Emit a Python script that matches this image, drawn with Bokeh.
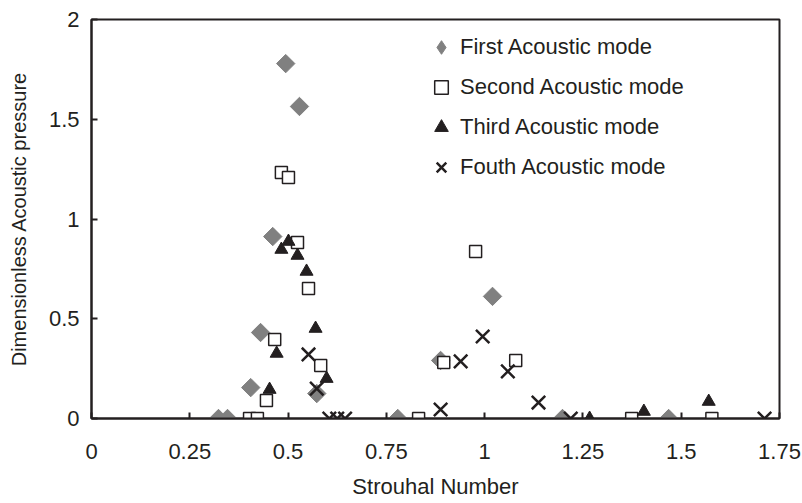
import numpy as np
from bokeh.plotting import figure
from bokeh.models import FixedTicker, NumeralTickFormatter, Range1d, Legend, LegendItem
from bokeh.embed import file_html
from bokeh.resources import INLINE

# ---- data ----
first_x = [0.323, 0.346, 0.405, 0.430, 0.461, 0.494, 0.529, 0.573, 0.779, 0.888, 1.020, 1.198, 1.468]
first_y = [0.0, 0.0, 0.155, 0.431, 0.912, 1.779, 1.564, 0.125, 0.0, 0.291, 0.612, 0.0, 0.0]

second_x = [0.402, 0.422, 0.445, 0.466, 0.483, 0.501, 0.524, 0.552, 0.583, 0.832, 0.896, 0.977, 1.079, 1.374, 1.578]
second_y = [0.0, 0.0, 0.090, 0.396, 1.233, 1.208, 0.882, 0.652, 0.266, 0.0, 0.281, 0.837, 0.291, 0.0, 0.0]

third_x = [0.453, 0.471, 0.483, 0.501, 0.524, 0.547, 0.570, 0.598, 1.267, 1.405, 1.570]
third_y = [0.145, 0.326, 0.847, 0.887, 0.817, 0.737, 0.451, 0.200, 0.0, 0.035, 0.085]

fourth_x = [0.552, 0.573, 0.605, 0.625, 0.645, 0.888, 0.939, 0.995, 1.059, 1.137, 1.219, 1.712]
fourth_y = [0.321, 0.150, 0.0, 0.0, 0.0, 0.045, 0.286, 0.411, 0.236, 0.080, 0.0, 0.0]

x_ticks = [0, 0.25, 0.5, 0.75, 1, 1.25, 1.5, 1.75]
y_ticks = [0, 0.5, 1, 1.5, 2]

series_labels = ["First Acoustic mode", "Second Acoustic mode", "Third Acoustic mode", "Fouth Acoustic mode"]

FONT = "Liberation Sans"
INK = "#231F20"
GREY = "#808080"

p = figure(width=802, height=503, output_backend="svg", toolbar_location=None,
           x_range=Range1d(0, 1.75), y_range=Range1d(0, 2),
           min_border_left=91, min_border_right=23, min_border_top=19, min_border_bottom=85)

p.background_fill_color = "white"
p.border_fill_color = "white"
p.outline_line_color = INK
p.outline_line_width = 2
p.grid.visible = False

r1 = p.scatter(first_x, first_y, marker="square", size=13, angle=np.pi / 4,
               fill_color=GREY, line_color=GREY)
r2 = p.scatter(second_x, second_y, marker="square", size=12, fill_color="white",
               line_color=INK, line_width=1.5)
r3 = p.scatter(third_x, third_y, marker="triangle", size=13, fill_color=INK, line_color=INK)
r4 = p.scatter(fourth_x, fourth_y, marker="x", size=19, line_color=INK, line_width=2.5)

# legend-only key for the first series (legend glyphs are drawn unrotated);
# a single NaN point is never drawn in the plot area
r1_key = p.scatter(x=[np.nan], y=[np.nan], marker="diamond", fill_color=GREY, line_color=GREY)

for ax, ticks, fmt in ((p.xaxis[0], x_ticks, "0.[00]"), (p.yaxis[0], y_ticks, "0.[0]")):
    ax.ticker = FixedTicker(ticks=ticks)
    ax.formatter = NumeralTickFormatter(format=fmt)
    ax.major_tick_in = 6
    ax.major_tick_out = 0
    ax.minor_tick_in = 0
    ax.minor_tick_out = 0
    ax.axis_line_color = INK
    ax.axis_line_width = 2
    ax.major_tick_line_color = INK
    ax.major_tick_line_width = 2
    ax.major_label_text_font = FONT
    ax.major_label_text_font_size = "22px"
    ax.major_label_text_color = INK
    ax.axis_label_text_font = FONT
    ax.axis_label_text_font_style = "normal"
    ax.axis_label_text_color = INK

p.xaxis.axis_label = "Strouhal Number"
p.yaxis.axis_label = "Dimensionless Acoustic pressure"
p.xaxis.axis_label_text_font_size = "22px"
p.yaxis.axis_label_text_font_size = "20px"
p.xaxis.major_label_standoff = 25
p.xaxis.axis_label_standoff = 12
p.yaxis.major_label_standoff = 12
p.yaxis.axis_label_standoff = 16

legend = Legend(items=[LegendItem(label=series_labels[0], renderers=[r1_key]),
                       LegendItem(label=series_labels[1], renderers=[r2]),
                       LegendItem(label=series_labels[2], renderers=[r3]),
                       LegendItem(label=series_labels[3], renderers=[r4])],
                location=(333, 234), orientation="vertical",
                glyph_width=34, glyph_height=34, label_height=34, spacing=6,
                label_standoff=2, padding=0, margin=0,
                border_line_color=None, background_fill_alpha=0,
                label_text_font=FONT, label_text_font_size="22px", label_text_color=INK)
p.add_layout(legend, "center")

open("out.html", "w").write(file_html(p, INLINE))
